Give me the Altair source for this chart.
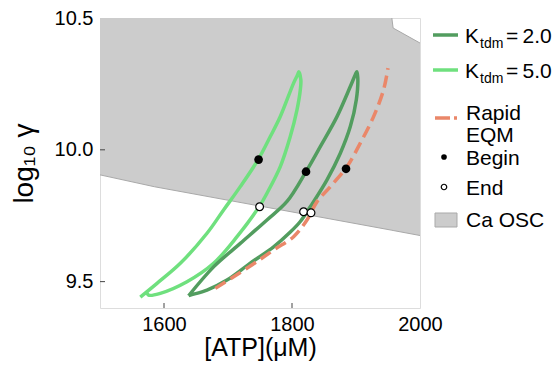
import altair as alt
import pandas as pd

# ---------------- data ----------------
atp_ticks = [1600, 1800, 2000]
gamma_ticks = [9.5, 10.0, 10.5]
atp_minor = [1600, 1800]
gamma_minor = [9.5, 10.0]

# Ca oscillation region (lower boundary and upper boundary)
osc_x = [1500, 1585, 1956, 1958, 2000]
osc_low = [9.905, 9.860, 9.695, 9.694, 9.675]
osc_high = [10.5, 10.5, 10.5, 10.462, 10.405]

# K_tdm = 2.0 trajectory
k2_x = [1638.4, 1677.5, 1719.2, 1760.9, 1792.2, 1821.9, 1844.2, 1870.3, 1891.1, 1898.9, 1901.2,
        1902.8, 1900.5, 1891.1, 1875.5, 1854.7, 1828.6, 1813.0, 1797.0, 1771.3, 1734.8, 1698.4,
        1667.2, 1641.1, 1638.4]
k2_y = [9.4465, 9.556, 9.645, 9.734, 9.804, 9.917, 10.012, 10.126, 10.240, 10.285, 10.296,
        10.273, 10.190, 10.088, 9.987, 9.886, 9.784, 9.728, 9.687, 9.632, 9.570, 9.506,
        9.468, 9.449, 9.4465]

# K_tdm = 5.0 trajectory
k5_x = [1563.0, 1589.1, 1625.5, 1667.2, 1693.1, 1719.2, 1747.8, 1766.1, 1781.7, 1802.5, 1808.8,
        1810.6, 1813.8, 1813.0, 1807.8, 1797.3, 1781.7, 1760.9, 1750.5, 1714.1, 1677.5,
        1635.9, 1594.2, 1575.9, 1572.3]
k5_y = [9.4414, 9.4935, 9.5695, 9.6834, 9.7719, 9.8604, 9.9656, 10.0503, 10.1263, 10.2531, 10.2847,
        10.296, 10.2657, 10.2277, 10.1518, 10.0503, 9.9364, 9.8354, 9.7910, 9.6705, 9.5695,
        9.4996, 9.4556, 9.4491, 9.4643]

# Rapid equilibrium curve
rapid_x = [1680.2, 1734.8, 1771.3, 1802.5, 1823.4, 1839.1, 1859.8, 1885.9, 1906.7, 1927.5, 1943.1, 1950.0]
rapid_y = [9.4745, 9.559, 9.620, 9.6705, 9.734, 9.8035, 9.860, 9.936, 10.0253, 10.126, 10.228, 10.31]

begin_x = [1747.8, 1821.9, 1884.4]
begin_y = [9.963, 9.917, 9.928]
end_x = [1749.4, 1818.1, 1829.7]
end_y = [9.784, 9.765, 9.761]

legend_k = "K"
legend_sub = "tdm"
legend_k2 = "=\u20092.0"
legend_k5 = "=\u20095.0"
legend_rapid = ["Rapid", "EQM"]
legend_begin = "Begin"
legend_end = "End"
legend_osc = "Ca OSC"

# ---------------- styles ----------------
FONT = "Liberation Sans"
DARK = "#529d5f"
LIGHT = "#6fe07e"
SALMON = "#ea8769"
GRAY = "#cccccc"
EDGE = "#a9a9a9"
LW = 3.5

XS = alt.Scale(domain=[1500, 2000], nice=False, zero=False)
YS = alt.Scale(domain=[9.4, 10.5], nice=False, zero=False)

x_axis = alt.Axis(values=atp_ticks, format="d", labelFlush=False, ticks=False, domain=False,
                  grid=False, labelFontSize=20, labelPadding=6, labelColor="black",
                  title="[ATP](μM)", titleFontSize=25, titleFontWeight="normal",
                  titleColor="black", titlePadding=1, labelFont=FONT, titleFont=FONT)
y_axis = alt.Axis(values=gamma_ticks, format=".1f", labelFlush=False, ticks=False, domain=False,
                  grid=False, labelFontSize=20, labelPadding=7, labelColor="black",
                  title="log₁₀ γ", titleFontSize=28, titleFontWeight="normal",
                  titleColor="black", titlePadding=16, labelFont=FONT, titleFont=FONT)


def X(field="x", axis=x_axis):
    return alt.X(f"{field}:Q", scale=XS, axis=axis)


def Y(field="y", axis=y_axis):
    return alt.Y(f"{field}:Q", scale=YS, axis=axis)


osc_df = pd.DataFrame({"x": osc_x, "low": osc_low, "high": osc_high})
area = alt.Chart(osc_df).mark_area(color=GRAY, opacity=1).encode(
    x=X(), y=Y("low"), y2="high:Q")

edge_df = pd.concat([
    pd.DataFrame({"x": osc_x, "y": osc_low, "seg": "low", "i": range(len(osc_x))}),
    pd.DataFrame({"x": osc_x[2:], "y": osc_high[2:], "seg": "corner", "i": range(3)}),
])
edges = alt.Chart(edge_df).mark_line(color=EDGE, strokeWidth=1).encode(
    x=X(), y=Y(), detail="seg:N", order="i:Q")


def path(xs, ys, color, dash=None, interp="catmull-rom"):
    df = pd.DataFrame({"x": xs, "y": ys, "i": range(len(xs))})
    kw = dict(color=color, strokeWidth=LW, interpolate=interp, strokeJoin="round")
    if dash:
        kw["strokeDash"] = dash
    return alt.Chart(df).mark_line(**kw).encode(x=X(), y=Y(), order="i:Q")


k5_line = path(k5_x, k5_y, LIGHT)
k2_line = path(k2_x, k2_y, DARK)
rapid_line = path(rapid_x, rapid_y, SALMON, dash=[12, 6])

begin_pts = alt.Chart(pd.DataFrame({"x": begin_x, "y": begin_y})).mark_point(
    filled=True, color="black", size=75, opacity=1).encode(x=X(), y=Y())
end_pts = alt.Chart(pd.DataFrame({"x": end_x, "y": end_y})).mark_point(
    filled=True, fill="white", stroke="black", strokeWidth=1.2, size=60, opacity=1).encode(x=X(), y=Y())

xt = alt.Chart(pd.DataFrame({"x": atp_minor})).mark_rule(color="#444", strokeWidth=1).encode(
    x=X(), y=alt.value(290), y2=alt.value(285))
yt = alt.Chart(pd.DataFrame({"y": gamma_minor})).mark_rule(color="#444", strokeWidth=1).encode(
    y=Y(), x=alt.value(0), x2=alt.value(5))

# ---------------- legend (drawn to the right of the plot) ----------------
one = pd.DataFrame({"k": [0]})


def lrule(y, color, dash=None, x0=333, x1=358):
    kw = dict(color=color, strokeWidth=LW)
    if dash:
        kw["strokeDash"] = dash
    return alt.Chart(one).mark_rule(**kw).encode(
        x=alt.value(x0), x2=alt.value(x1), y=alt.value(y), y2=alt.value(y))


def ltext(label, x, y, size=21):
    return alt.Chart(pd.DataFrame({"label": [label]})).mark_text(
        align="left", baseline="alphabetic", fontSize=size, font=FONT, color="black").encode(
        x=alt.value(x), y=alt.value(y), text="label:N")


legend = [
    lrule(17, DARK), ltext(legend_k, 365, 25), ltext(legend_sub, 380, 30, 14), ltext(legend_k2, 406, 25),
    lrule(52, LIGHT), ltext(legend_k, 365, 60), ltext(legend_sub, 380, 65, 14), ltext(legend_k5, 406, 60),
    lrule(100, SALMON, dash=[15, 4], x0=335, x1=357),
    ltext(legend_rapid[0], 366, 102), ltext(legend_rapid[1], 366, 124),
    alt.Chart(one).mark_point(filled=True, color="black", size=32, opacity=1).encode(
        x=alt.value(344), y=alt.value(139)),
    ltext(legend_begin, 366, 147),
    alt.Chart(one).mark_point(filled=True, fill="white", stroke="black", strokeWidth=1.2, size=30,
                              opacity=1).encode(x=alt.value(344), y=alt.value(169)),
    ltext(legend_end, 366, 177),
    alt.Chart(one).mark_rect(fill=GRAY, stroke=EDGE, strokeWidth=1).encode(
        x=alt.value(335), x2=alt.value(357), y=alt.value(195), y2=alt.value(209)),
    ltext(legend_osc, 366, 209),
]

chart = alt.layer(area, edges, k5_line, k2_line, rapid_line, begin_pts, end_pts, xt, yt, *legend).properties(
    width=320, height=290,
    autosize=alt.AutoSizeParams(type="none"),
    padding={"left": 92, "top": 10, "right": 132, "bottom": 55},
).configure_view(stroke="#444", strokeWidth=1).configure(font=FONT)

chart.save("out.html", embed_options={"renderer": "svg", "actions": False})
